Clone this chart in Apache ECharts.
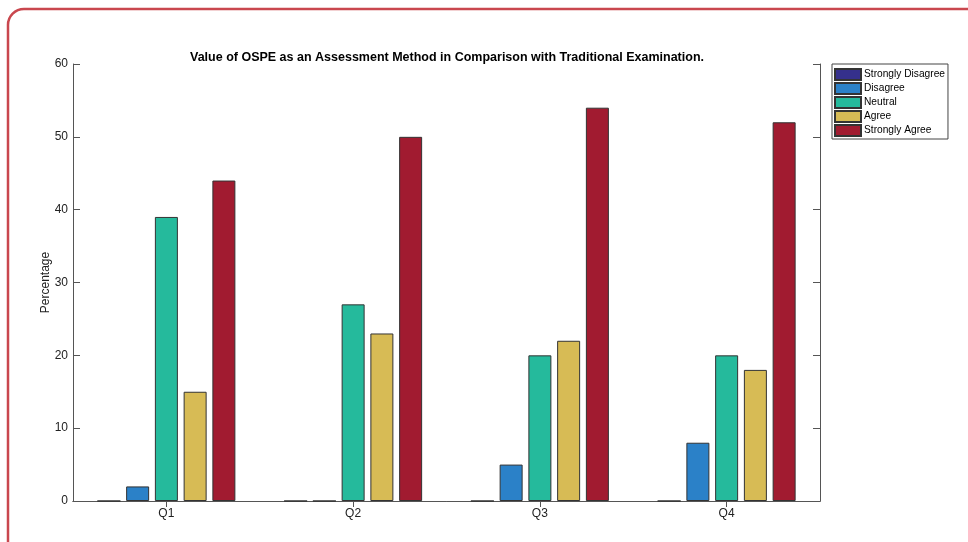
<!DOCTYPE html>
<html>
<head>
<meta charset="utf-8">
<script src="https://cdn.jsdelivr.net/npm/echarts@6/dist/echarts.min.js"></script>
<style>
  html, body { margin: 0; padding: 0; background: #fff; }
  #chart { width: 968px; height: 542px; }
</style>
</head>
<body>
<div id="chart"></div>
<script>
// Survey questions on the x axis
const categories = ['Q1', 'Q2', 'Q3', 'Q4'];

// Percentage of responses per Likert level
const stronglyDisagree = [0, 0, 0, 0];
const disagree = [2, 0, 5, 8];
const neutral = [39, 27, 20, 20];
const agree = [15, 23, 22, 18];
const stronglyAgree = [44, 50, 54, 52];

const yTicks = { min: 0, max: 60, interval: 10 };

const seriesDefs = [
  { name: 'Strongly Disagree', data: stronglyDisagree, color: '#35308c' },
  { name: 'Disagree', data: disagree, color: '#2b81c8' },
  { name: 'Neutral', data: neutral, color: '#25ba9c' },
  { name: 'Agree', data: agree, color: '#d7bb55' },
  { name: 'Strongly Agree', data: stronglyAgree, color: '#a11b30' }
];

const axisColor = '#555';
const textColor = '#222';
const font = 'Liberation Sans, Arial, Helvetica, sans-serif';

const chart = echarts.init(document.getElementById('chart'), null, { renderer: 'canvas' });

chart.setOption({
  backgroundColor: '#fff',
  animation: false,
  title: {
    text: 'Value of OSPE as an Assessment Method in Comparison with Traditional Examination.',
    left: 442,
    textAlign: 'center',
    top: 46,
    textStyle: { fontFamily: font, fontSize: 12.5, fontWeight: 'bold', color: '#000' }
  },
  legend: {
    orient: 'vertical',
    left: 832,
    top: 64,
    padding: [4, 3, 2, 2],
    itemWidth: 26,
    itemHeight: 11,
    itemGap: 1,
    icon: 'rect',
    borderColor: '#444',
    borderWidth: 1,
    backgroundColor: '#fff',
    textStyle: { fontFamily: font, fontSize: 10.2, lineHeight: 11, color: '#000', padding: [0, 0, 0, -2] },
    data: seriesDefs.map(s => s.name)
  },
  grid: { left: 73, right: 148, top: 64, bottom: 41, containLabel: false },
  xAxis: [
    {
      type: 'category',
      data: categories,
      position: 'bottom',
      axisLine: { lineStyle: { color: axisColor, width: 1 } },
      axisTick: { show: true, inside: true, alignWithLabel: true, length: 6, lineStyle: { color: axisColor } },
      axisLabel: { color: textColor, fontFamily: font, fontSize: 12, margin: 7 },
      splitLine: { show: false }
    },
    {
      type: 'category',
      data: categories,
      position: 'top',
      axisLine: { lineStyle: { color: axisColor, width: 1 } },
      axisTick: { show: true, inside: true, alignWithLabel: true, length: 6, lineStyle: { color: axisColor } },
      axisLabel: { show: false },
      splitLine: { show: false }
    }
  ],
  yAxis: [
    {
      type: 'value',
      min: yTicks.min,
      max: yTicks.max,
      interval: yTicks.interval,
      position: 'left',
      name: 'Percentage',
      nameLocation: 'middle',
      nameGap: 21,
      nameMoveOverlap: false,
      nameTextStyle: { color: textColor, fontFamily: font, fontSize: 12 },
      axisLine: { show: true, lineStyle: { color: axisColor, width: 1 } },
      axisTick: { show: true, inside: true, length: 7, lineStyle: { color: axisColor } },
      axisLabel: { color: textColor, fontFamily: font, fontSize: 12, margin: 5 },
      splitLine: { show: false }
    },
    {
      type: 'value',
      min: yTicks.min,
      max: yTicks.max,
      interval: yTicks.interval,
      position: 'right',
      axisLine: { show: true, lineStyle: { color: axisColor, width: 1 } },
      axisTick: { show: true, inside: true, length: 7, lineStyle: { color: axisColor } },
      axisLabel: { show: false },
      splitLine: { show: false }
    }
  ],
  series: seriesDefs.map(s => ({
    name: s.name,
    type: 'bar',
    data: s.data,
    barWidth: 23,
    barGap: '25%',
    itemStyle: { color: s.color, borderColor: '#333', borderWidth: 1 }
  })),
  graphic: [
    {
      type: 'rect',
      silent: true,
      z: 100,
      shape: { x: 8, y: 9, width: 1100, height: 700, r: 16 },
      style: { fill: 'none', stroke: '#c9474e', lineWidth: 2.5 }
    }
  ]
});
</script>
</body>
</html>
